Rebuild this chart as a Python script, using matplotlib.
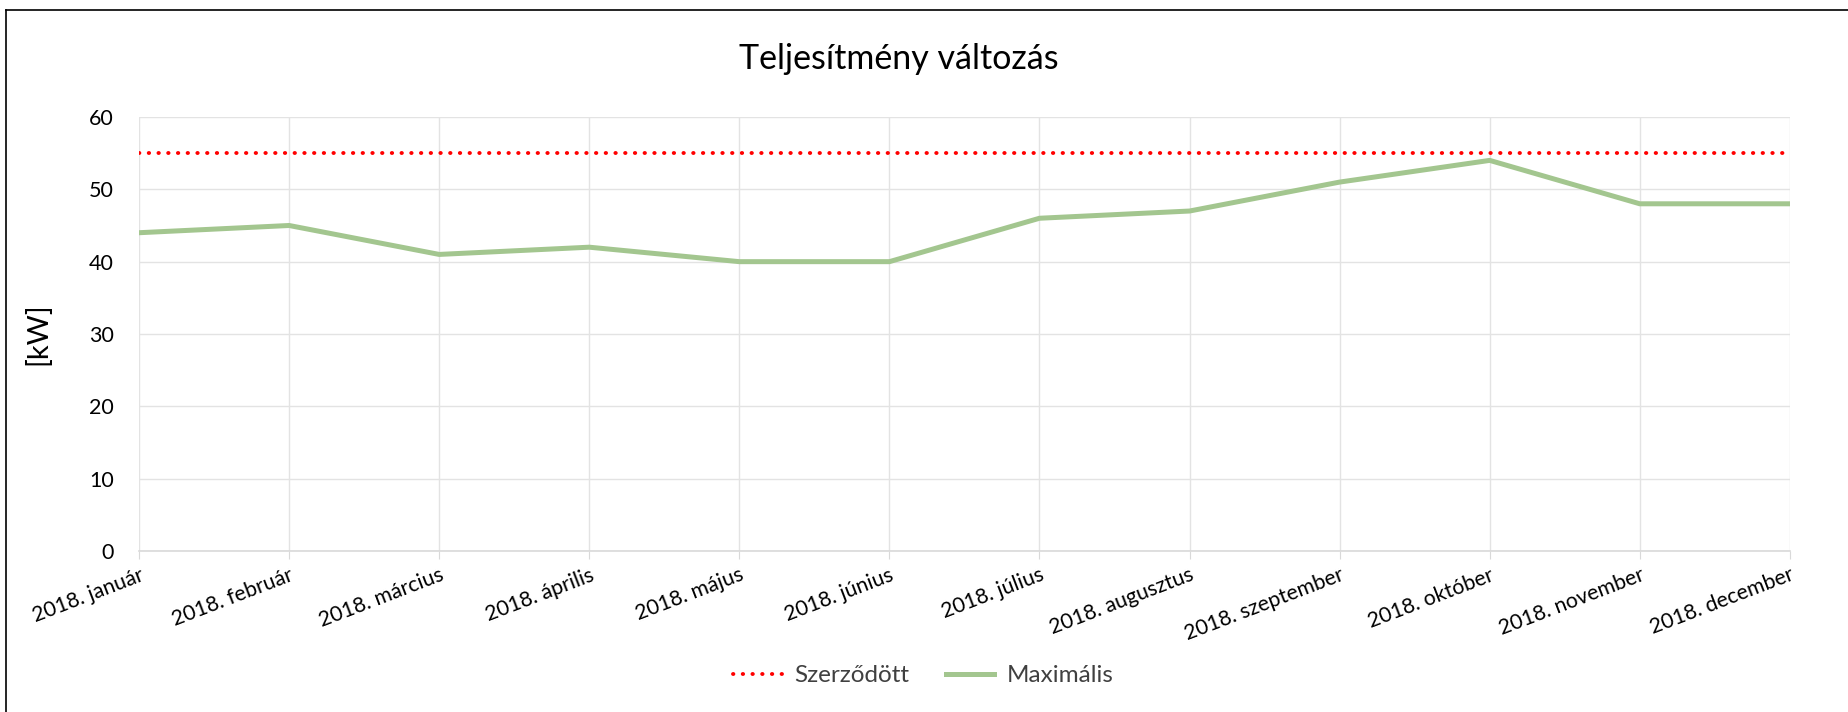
import numpy as np
import matplotlib.pyplot as plt
from matplotlib.lines import Line2D

plt.rcParams['font.family'] = ['Lato', 'DejaVu Sans']

# --- Data ---
months = ['2018. január', '2018. február', '2018. március', '2018. április',
          '2018. május', '2018. június', '2018. július', '2018. augusztus',
          '2018. szeptember', '2018. október', '2018. november', '2018. december']
maximalis = [44, 45, 41, 42, 40, 40, 46, 47, 51, 54, 48, 48]
szerzodott = [55] * 12

x = np.arange(len(months))

# --- Plot ---
fig = plt.figure(figsize=(18.49, 7.12), dpi=100)
ax = fig.add_axes([0.0752, 0.2261, 0.8928, 0.6096])

ax.plot(x, szerzodott, color='#FF0000', lw=2.8, linestyle=(0, (0.1, 2.4)),
        dash_capstyle='round', label='Szerződött')
ax.plot(x, maximalis, color='#A3C68F', lw=3.6, label='Maximális')

ax.set_xlim(0, len(months) - 1)
ax.set_ylim(0, 60)
ax.set_yticks(range(0, 61, 10))
ax.set_xticks(x)
ax.set_xticklabels(months, rotation=21, ha='right', rotation_mode='anchor',
                   fontsize=15.3)
ax.tick_params(axis='y', length=0, labelsize=15.5, pad=18)
ax.tick_params(axis='x', length=6, color='#D9D9D9', pad=4)
ax.grid(True, color='#E3E3E3', lw=1)
ax.set_axisbelow(True)
for s in ['top', 'right', 'left']:
    ax.spines[s].set_visible(False)
ax.spines['bottom'].set_color('#D9D9D9')
ax.spines['bottom'].set_linewidth(1.2)

ax.set_ylabel('[kW]', fontsize=21, labelpad=27)
fig.text(0.486, 0.917, 'Teljesítmény változás', fontsize=24.5, ha='center', va='center')

leg = fig.legend(loc='center', bbox_to_anchor=(0.4994, 0.051), ncol=2, frameon=False,
                 fontsize=17.5, handlelength=2.0, columnspacing=1.5, handletextpad=0.5)
for t in leg.get_texts():
    t.set_color('#404040')

# chart border (left and top)
fig.add_artist(Line2D([0.0035, 0.0035], [0, 0.986], color='black', lw=1.2))
fig.add_artist(Line2D([0.0035, 1], [0.986, 0.986], color='black', lw=1.2))

fig.savefig('out.png', dpi=100)
